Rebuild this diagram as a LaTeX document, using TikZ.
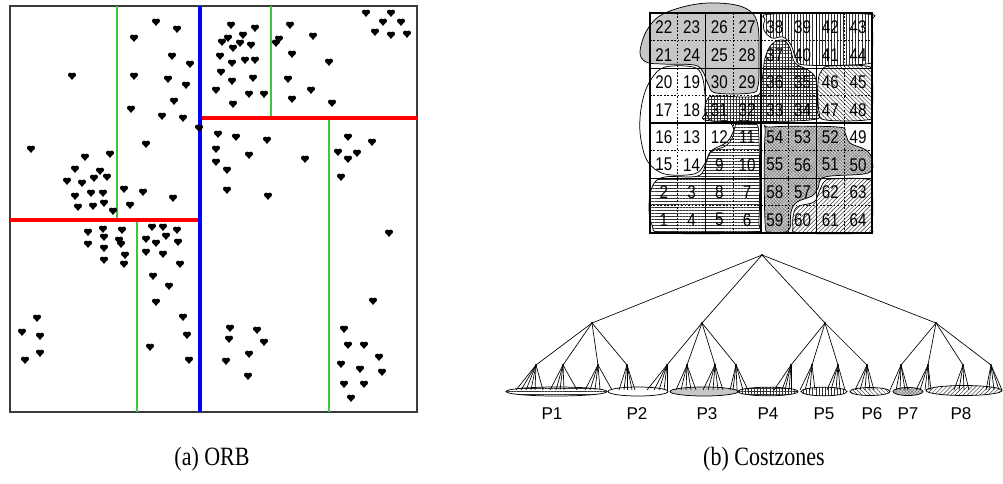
\documentclass[tikz,border=0pt]{standalone}
\usepackage{fontspec}
\setmainfont{Liberation Serif}
\newfontfamily\arialf{Liberation Sans}
\usetikzlibrary{patterns,patterns.meta}
\definecolor{orbgreen}{RGB}{60,200,60}
\definecolor{framegray}{RGB}{60,60,60}
\tikzset{
  hrt/.pic={\fill (-1.8,-1.2) circle[radius=2.2];
            \fill (1.8,-1.2) circle[radius=2.2];
            \fill (-3.9,-0.5) -- (3.9,-0.5) -- (0,3.9) -- cycle;},
  blob/.style={draw=black,line width=0.55pt},
  gsolid/.style={line width=0.5pt},
  gthick/.style={line width=1.4pt},
  gdash/.style={line width=0.4pt,dash pattern=on 1.3pt off 1.3pt},
  num/.style={font=\arialf\fontsize{12}{13}\selectfont,inner sep=0pt},
  plab/.style={font=\arialf\fontsize{12.8}{13}\selectfont,inner sep=0pt},
  caplab/.style={font=\fontsize{16.5}{18}\selectfont,inner sep=0pt},
  tedge/.style={line width=0.5pt},
  phz/.style={pattern={Lines[angle=0,distance=2.3pt,line width=0.35pt]},pattern color=black!80},
  pvt/.style={pattern={Lines[angle=90,distance=2.3pt,line width=0.35pt]},pattern color=black!80},
  pgr/.style={pattern={Hatch[angle=0,distance=2.3pt,line width=0.35pt]},pattern color=black!80},
  pnw/.style={pattern={Lines[angle=-45,distance=2.2pt,line width=0.35pt]},pattern color=black!80},
  pne/.style={pattern={Lines[angle=45,distance=2.2pt,line width=0.35pt]},pattern color=black!80},
  pdt/.style={preaction={fill=black!18},pattern={Hatch[angle=45,distance=1.7pt,line width=0.2pt]},pattern color=black!60},
  pgy/.style={fill=black!22},
}
\newcommand\numtxt[1]{\scalebox{0.95}[1.15]{#1}}
\newcommand\captxt[1]{\scalebox{1}[1.2]{#1}}
\begin{document}
\begin{tikzpicture}[x=0.75pt,y=-0.75pt]
\useasboundingbox (0,0) rectangle (1003,483);

% ---------------- (a) ORB ----------------
\draw[line width=1.1pt,draw=framegray] (10,6) rectangle (417,412);
\draw[orbgreen,line width=2.2pt] (117,6) -- (117,220);
\draw[orbgreen,line width=2.2pt] (137,220) -- (137,412);
\draw[orbgreen,line width=2.2pt] (271,6) -- (271,118);
\draw[orbgreen,line width=2.2pt] (329,118) -- (329,412);
\draw[red,line width=3pt] (10,220) -- (199,220);
\draw[red,line width=3pt] (201,118) -- (418,118);
\draw[blue,line width=3pt] (200,6) -- (200,412);
\foreach \x/\y in {156/22,177/29,134/38,172/56,190/64,72/76,134/76,168/79,186/85,174/101,131/109,162/116,183/118,199/128,31/149,146/144,85/157,110/154,75/169,100/171,67/181,82/183,94/178,107/177,124/189,143/192,173/198,75/196,91/193,103/193,78/207,93/206,104/203,113/211,130/205,
88/232,103/229,122/230,104/237,119/240,121/244,88/244,104/248,125/255,104/260,124/264,152/227,163/227,177/230,146/239,156/243,166/236,178/242,146/252,163/254,180/264,153/276,169/286,156/302,183/317,187/335,189/360,150/347,37/318,22/332,40/336,40/353,25/360,
231/25,255/28,243/35,228/38,222/42,240/43,233/48,251/45,220/56,232/63,245/60,255/60,221/72,232/81,253/78,216/90,249/94,264/94,233/104,279/39,276/43,290/25,313/36,292/54,329/62,288/79,311/90,292/99,332/103,366/13,391/13,383/22,401/22,375/32,391/35,407/34,
218/134,236/137,267/140,216/149,249/155,216/162,227/170,305/159,227/190,268/196,348/137,372/142,338/152,357/153,348/159,341/177,
389/233,373/301,230/328,257/330,229/339,264/342,249/354,226/361,248/376,344/329,348/345,364/345,379/357,341/364,360/369,382/372,344/384,364/384,351/398}
  \pic at (\x,\y) {hrt};
\node[caplab] (capa) at (212,459) {\captxt{(a) ORB}};

% ---------------- (b) Costzones : grid ----------------
% P3 gray
\path[blob,pgy] plot[smooth cycle,tension=0.6] coordinates {(640,52) (647,30) (663,14) (697,4) (730,4) (750,11) (758,26) (759,60) (758,86) (751,93) (716,93) (708,84) (703,72) (694,65) (662,64) (646,62)};
% P2 white
\path[blob,fill=white] plot[smooth cycle,tension=0.6] coordinates {(652,78) (665,67) (693,67) (702,76) (705,95) (706,112) (712,121) (728,121) (734,132) (727,145) (711,152) (704,165) (694,174) (665,174) (648,162) (641,140) (640,118) (644,95)};
% P1 horizontal lines
\path[blob,phz] plot[smooth cycle,tension=0.6] coordinates {(738,121) (755,123) (759,140) (759,220) (753,232) (665,233) (652,225) (649,205) (653,185) (665,177) (698,176) (706,163) (711,151) (727,142) (734,130)};
% P4 grid
\path[blob,pgr] plot[smooth cycle,tension=0.6] coordinates {(707,100) (715,96) (756,96) (762,80) (765,58) (772,44) (783,40) (790,48) (795,63) (808,70) (816,80) (817,110) (810,120) (712,121) (705,113)};
% P5 vertical lines
\path[blob,pvt] plot[smooth cycle,tension=0.6] coordinates {(765,20) (772,14) (866,14) (872,22) (872,56) (866,64) (805,65) (796,58) (791,45) (783,37) (772,38) (764,30)};
% P6 north west lines
\path[blob,pnw] plot[smooth cycle,tension=0.6] coordinates {(822,70) (830,66) (866,66) (872,74) (872,113) (866,120) (826,120) (819,112) (818,82)};
% P7 dots
\path[blob,pdt] plot[smooth cycle,tension=0.6] coordinates {(765,135) (772,127) (838,127) (845,133) (850,143) (866,150) (872,160) (868,173) (825,177) (818,188) (812,196) (797,202) (791,212) (790,228) (782,233) (770,232) (765,222)};
% P8 north east lines
\path[blob,pne] plot[smooth cycle,tension=0.6] coordinates {(824,182) (832,179) (866,179) (872,187) (872,226) (866,233) (800,233) (793,227) (794,212) (799,206) (814,202) (819,192)};

% grid lines
\foreach \i in {1,3,5,7} {
  \draw[gdash] ({650+\i*27.75},13) -- ({650+\i*27.75},233);
  \draw[gdash] (650,{13+\i*27.5}) -- (872,{13+\i*27.5});
}
\foreach \i in {2,6} {
  \draw[gsolid] ({650+\i*27.75},13) -- ({650+\i*27.75},233);
  \draw[gsolid] (650,{13+\i*27.5}) -- (872,{13+\i*27.5});
}
\draw[gthick] (761,13) -- (761,233);
\draw[gthick] (650,123) -- (872,123);
\draw[line width=0.8pt] (650,13) rectangle (872,233);

\foreach \r/\row in {1/{22,23,26,27,38,39,42,43},2/{21,24,25,28,37,40,41,44},3/{20,19,30,29,36,35,46,45},4/{17,18,31,32,33,34,47,48},5/{16,13,12,11,54,53,52,49},6/{15,14,9,10,55,56,51,50},7/{2,3,8,7,58,57,62,63},8/{1,4,5,6,59,60,61,64}}
  \foreach \n [count=\c] in \row
    \node[num] (n\n) at ({650+(\c-0.5)*27.75},{13.5+(\r-0.5)*27.5}) {\numtxt{\n}};

% ---------------- tree ----------------
\path[blob,phz] (556.5,391.5) ellipse[x radius=50.5,y radius=4.5];
\path[blob,fill=white] (638,391.5) ellipse[x radius=30,y radius=4.5];
\path[blob,pgy] (704,391.5) ellipse[x radius=34,y radius=4.5];
\path[blob,pgr] (768,391.5) ellipse[x radius=30,y radius=4.3];
\path[blob,pvt] (824,391.5) ellipse[x radius=23,y radius=4.3];
\path[blob,pnw] (870,391.5) ellipse[x radius=20,y radius=4];
\path[blob,pdt] (908,391.5) ellipse[x radius=15,y radius=4];
\path[blob,pne] (964,390.5) ellipse[x radius=38,y radius=5];

\coordinate (root) at (762,255);
\coordinate (A) at (592,323);
\coordinate (B) at (702,323);
\coordinate (C) at (825,323);
\coordinate (D) at (936,323);
\foreach \k in {A,B,C,D} {
  \draw[tedge] (root) -- (\k);
  \fill (\k) circle[radius=1.1];
}
\fill (root) circle[radius=1.1];
\foreach \pa/\nm/\xx/\offs in {A/a1/536/{-20,-15,-10,-5,-1,7},A/a2/563/{-13,-7,-3,1,14},A/a3/598/{-13,-8,-3,2,14},A/a4/627/{-8,-3,0,5,8},
  B/b1/667/{-20,-13,-8,-3,0},B/b2/687/{-11,-6,-1,4,9},B/b3/715/{-12,-7,-2,3,8},B/b4/736/{-6,-3,1,7,12},
  C/c1/791/{-17,-9,-6,-2,0},C/c2/812/{-12,-7,-2,3},C/c3/838/{-11,-7,-2,2,7},C/c4/867/{-12,-7,-2,3,7},
  D/d1/901/{-11,-5,-1,4,7},D/d2/928/{-12,-8,-3,1,3},D/d3/963/{-9,-4,1,6},D/d4/991/{-5,-2,3,8,11}} {
  \coordinate (\nm) at (\xx,365);
  \draw[tedge] (\pa) -- (\nm);
  \fill (\nm) circle[radius=1.1];
  \foreach \o [count=\k] in \offs {
    \coordinate (\nm-\k) at ({\xx+(\o)},390);
    \draw[tedge] (\nm) -- (\nm-\k);
  }
}

\foreach \t/\px in {P1/552,P2/637,P3/707,P4/768,P5/824,P6/872,P7/908,P8/961}
  \node[plab] (lab\t) at (\px,414) {\t};

\node[caplab] (capb) at (764,459) {\captxt{(b) Costzones}};
\end{tikzpicture}
\end{document}
